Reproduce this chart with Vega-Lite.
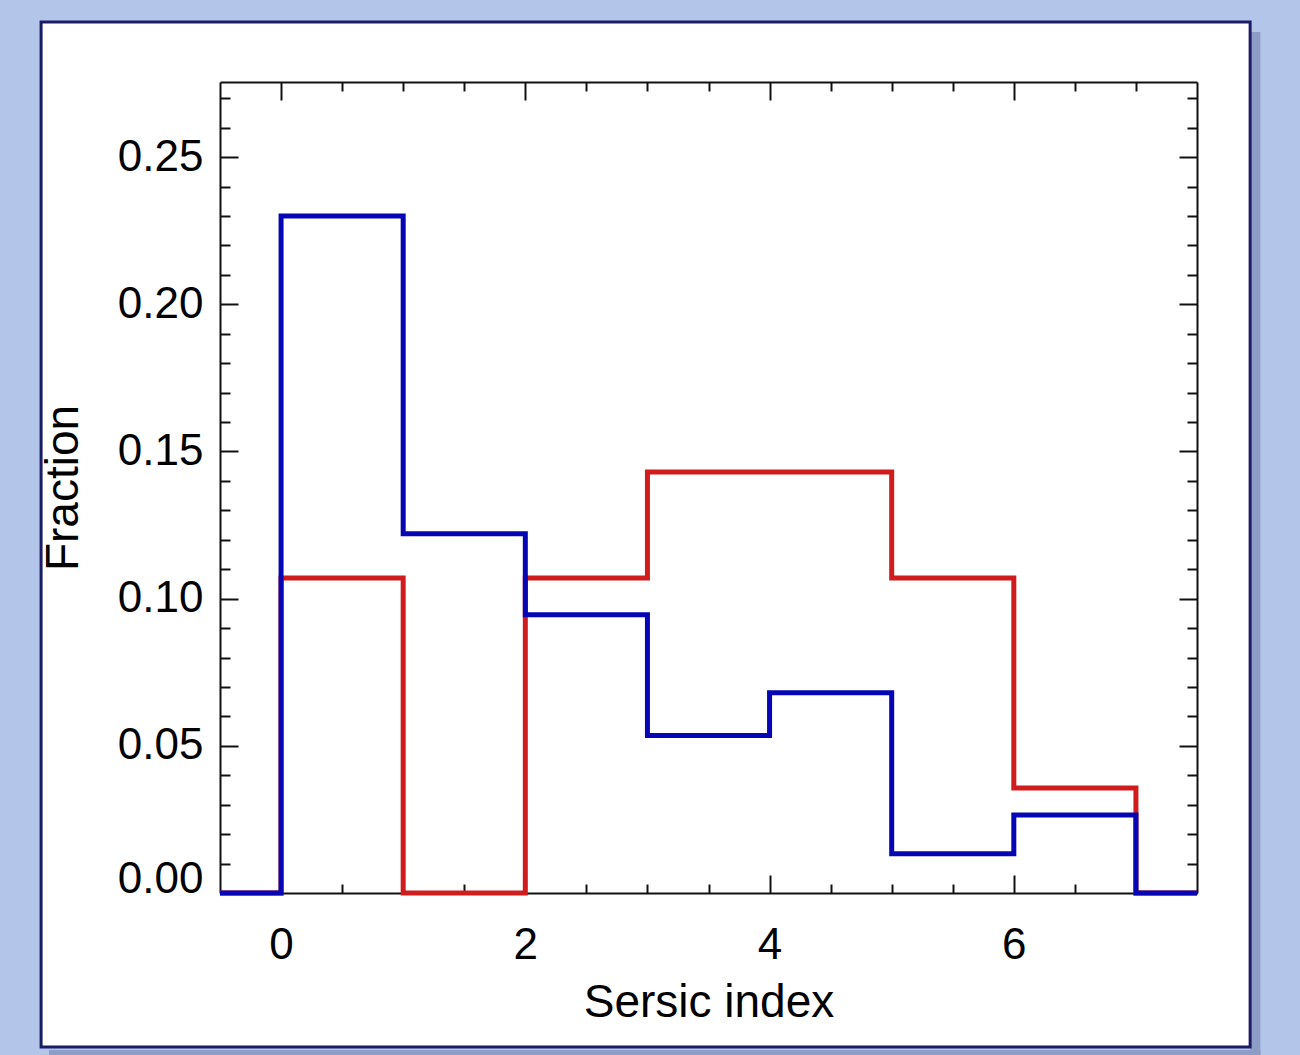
{
  "$schema": "https://vega.github.io/schema/vega-lite/v6.json",
  "width": 977,
  "height": 811,
  "autosize": {"type": "none"},
  "padding": {"left": 220, "top": 82, "right": 103, "bottom": 162},
  "background": "white",
  "config": {
    "view": {"stroke": null},
    "font": "Liberation Sans",
    "axis": {
      "zindex": 0,
      "grid": false,
      "domainColor": "#111111",
      "domainWidth": 2,
      "tickColor": "#111111",
      "tickWidth": 2,
      "labelColor": "#000000",
      "titleColor": "#000000",
      "labelFont": "Liberation Sans",
      "titleFont": "Liberation Sans",
      "labelFontSize": 44,
      "titleFontSize": 46,
      "labelFontWeight": "normal",
      "titleFontWeight": "normal"
    }
  },
  "datasets": {
    "hist": [
      {"series": "red", "n": -0.5, "fraction": 0.0},
      {"series": "red", "n": 0, "fraction": 0.107},
      {"series": "red", "n": 1, "fraction": 0.0},
      {"series": "red", "n": 2, "fraction": 0.107},
      {"series": "red", "n": 3, "fraction": 0.143},
      {"series": "red", "n": 4, "fraction": 0.143},
      {"series": "red", "n": 5, "fraction": 0.107},
      {"series": "red", "n": 6, "fraction": 0.0357},
      {"series": "red", "n": 7, "fraction": 0.0},
      {"series": "red", "n": 7.5, "fraction": 0.0},
      {"series": "blue", "n": -0.5, "fraction": 0.0},
      {"series": "blue", "n": 0, "fraction": 0.23},
      {"series": "blue", "n": 1, "fraction": 0.122},
      {"series": "blue", "n": 2, "fraction": 0.0945},
      {"series": "blue", "n": 3, "fraction": 0.0535},
      {"series": "blue", "n": 4, "fraction": 0.068},
      {"series": "blue", "n": 5, "fraction": 0.0133},
      {"series": "blue", "n": 6, "fraction": 0.0265},
      {"series": "blue", "n": 7, "fraction": 0.0},
      {"series": "blue", "n": 7.5, "fraction": 0.0}
    ],
    "frame": [{"x0": -1.965, "x1": 7.935, "y0": -0.0523, "y1": 0.2959}]
  },
  "data": {"name": "frame"},
  "resolve": {"axis": {"x": "independent", "y": "independent"}},
  "layer": [
    {
      "description": "light blue surround: a wide stroke laid just outside the white sheet",
      "mark": {"type": "rect", "fill": null, "stroke": "#b3c6ea", "strokeWidth": 120, "clip": false},
      "encoding": {
        "x": {"datum": -2.456, "type": "quantitative", "scale": {"domain": [-0.5, 7.5], "nice": false, "zero": false},
              "axis": {"orient": "bottom", "values": [0, 2, 4, 6], "format": "d", "tickSize": -18, "labelPadding": 48,
                       "title": "Sersic index", "titlePadding": 13}},
        "x2": {"datum": 8.426},
        "y": {"datum": -0.0727, "type": "quantitative", "scale": {"domain": [0, 0.2755], "nice": false, "zero": false},
              "axis": {"orient": "left", "values": [0, 0.05, 0.1, 0.15, 0.2, 0.25], "format": ".2f", "tickSize": -18,
                       "labelPadding": 35, "labelFlush": true, "labelFlushOffset": 8, "title": "Fraction", "titlePadding": 30}},
        "y2": {"datum": 0.3163}
      }
    },
    {
      "description": "drop shadow along the right edge of the sheet",
      "mark": {"type": "rule", "stroke": "#8d9dc6", "strokeWidth": 10, "clip": false},
      "encoding": {
        "x": {"datum": 7.978, "type": "quantitative",
              "axis": {"orient": "top", "values": [0, 2, 4, 6], "tickSize": -18, "labels": false, "title": null}},
        "y": {"datum": 0.2925, "type": "quantitative",
              "axis": {"orient": "right", "values": [0, 0.05, 0.1, 0.15, 0.2, 0.25], "tickSize": -18, "labels": false, "title": null}},
        "y2": {"datum": -0.0560}
      }
    },
    {
      "description": "drop shadow along the bottom edge of the sheet",
      "mark": {"type": "rule", "stroke": "#8d9dc6", "strokeWidth": 10, "clip": false},
      "encoding": {
        "x": {"datum": -1.90, "type": "quantitative",
              "axis": {"orient": "bottom", "values": [0.5, 1, 1.5, 2.5, 3, 3.5, 4.5, 5, 5.5, 6.5, 7], "tickSize": -9,
                       "labels": false, "domain": false, "title": null}},
        "x2": {"datum": 8.02},
        "y": {"datum": -0.0550, "type": "quantitative",
              "axis": {"orient": "left", "values": [0.01, 0.02, 0.03, 0.04, 0.06, 0.07, 0.08, 0.09, 0.11, 0.12, 0.13, 0.14, 0.16, 0.17, 0.18, 0.19, 0.21, 0.22, 0.23, 0.24, 0.26, 0.27],
                       "tickSize": -10, "labels": false, "domain": false, "title": null}}
      }
    },
    {
      "description": "navy border of the sheet",
      "mark": {"type": "rect", "fill": null, "stroke": "#1b1c66", "strokeWidth": 3, "clip": false},
      "encoding": {
        "x": {"field": "x0", "type": "quantitative",
              "axis": {"orient": "top", "values": [0.5, 1, 1.5, 2.5, 3, 3.5, 4.5, 5, 5.5, 6.5, 7], "tickSize": -9,
                       "labels": false, "domain": false, "title": null}},
        "x2": {"field": "x1"},
        "y": {"field": "y0", "type": "quantitative",
              "axis": {"orient": "right", "values": [0.01, 0.02, 0.03, 0.04, 0.06, 0.07, 0.08, 0.09, 0.11, 0.12, 0.13, 0.14, 0.16, 0.17, 0.18, 0.19, 0.21, 0.22, 0.23, 0.24, 0.26, 0.27],
                       "tickSize": -10, "labels": false, "domain": false, "title": null}},
        "y2": {"field": "y1"}
      }
    },
    {
      "data": {"name": "hist"},
      "transform": [{"filter": "datum.series === 'red'"}],
      "mark": {"type": "line", "interpolate": "step-after", "stroke": "#d01c1c", "strokeWidth": 5, "strokeJoin": "miter", "strokeCap": "butt"},
      "encoding": {
        "x": {"field": "n", "type": "quantitative", "axis": null},
        "y": {"field": "fraction", "type": "quantitative", "axis": null}
      }
    },
    {
      "data": {"name": "hist"},
      "transform": [{"filter": "datum.series === 'blue'"}],
      "mark": {"type": "line", "interpolate": "step-after", "stroke": "#0606b4", "strokeWidth": 5, "strokeJoin": "miter", "strokeCap": "butt"},
      "encoding": {
        "x": {"field": "n", "type": "quantitative", "axis": null},
        "y": {"field": "fraction", "type": "quantitative", "axis": null}
      }
    }
  ]
}
